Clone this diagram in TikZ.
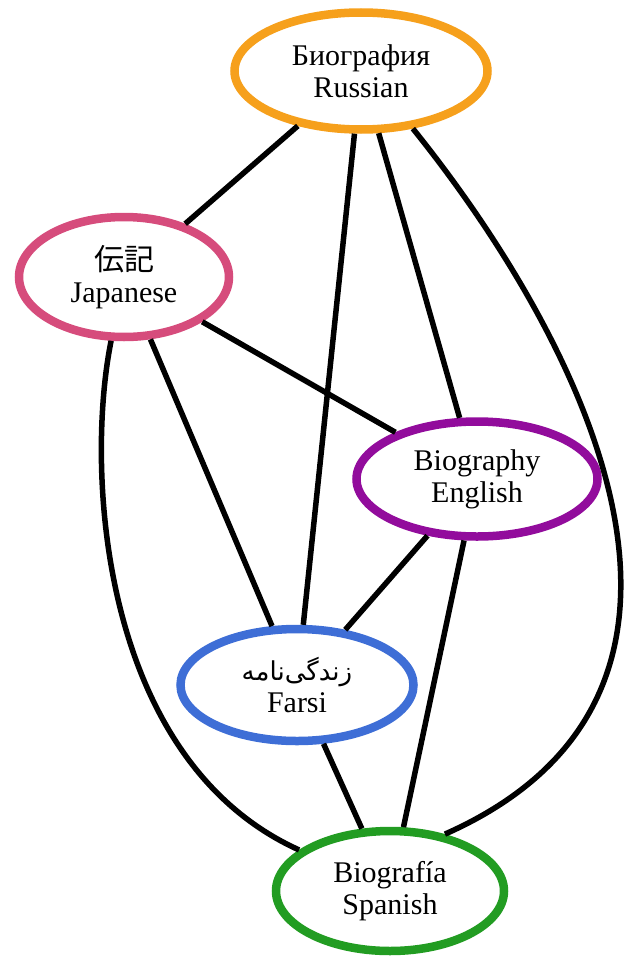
\documentclass[tikz,border=0pt]{standalone}
\usepackage{fontspec}
\setmainfont{Liberation Serif}
\newfontfamily\cjk{Noto Sans CJK JP}
\newfontfamily\arabicfont[Script=Arabic]{DejaVu Sans}
\TeXXeTstate=1
\usetikzlibrary{shapes.geometric}
\definecolor{cRus}{RGB}{246,160,28}
\definecolor{cJap}{RGB}{214,76,124}
\definecolor{cEng}{RGB}{146,12,156}
\definecolor{cFar}{RGB}{62,110,214}
\definecolor{cSpa}{RGB}{34,156,34}
\begin{document}
\begin{tikzpicture}[x=1pt,y=-1pt,
  lang/.style={ellipse, draw, line width=8.5pt, fill=white, inner sep=0pt, align=center,
    font=\fontsize{30}{32}\selectfont},
  link/.style={line width=5.5pt, black}]
\useasboundingbox (0,0) rectangle (624,958);
\node[lang, draw=cRus, minimum width=253pt, minimum height=117pt] (rus) at (361,71) {Биография\\Russian};
\node[lang, draw=cJap, minimum width=210pt, minimum height=120pt] (jap) at (124,277) {{\cjk 伝記}\\Japanese};
\node[lang, draw=cEng, minimum width=241pt, minimum height=115pt] (eng) at (477,479) {Biography\\English};
\node[lang, draw=cFar, minimum width=233pt, minimum height=112pt] (far) at (297,685) {{\arabicfont\fontsize{26}{32}\selectfont\beginR زندگی‌نامه\endR}\\Farsi};
\node[lang, draw=cSpa, minimum width=228pt, minimum height=120pt] (spa) at (390,891) {Biografía\\Spanish};
\draw[link] (rus) -- (jap);
\draw[link] (rus) -- (far);
\draw[link] (rus) -- (eng);
\draw[link] (rus.-48) .. controls (575,330) and (770,690) .. (spa.46);
\draw[link] (jap) -- (eng);
\draw[link] (jap) -- (far);
\draw[link] (jap) .. controls (85,470) and (100,760) .. (spa);
\draw[link] (eng) -- (far);
\draw[link] (eng) -- (spa);
\draw[link] (far) -- (spa);
\end{tikzpicture}
\end{document}
